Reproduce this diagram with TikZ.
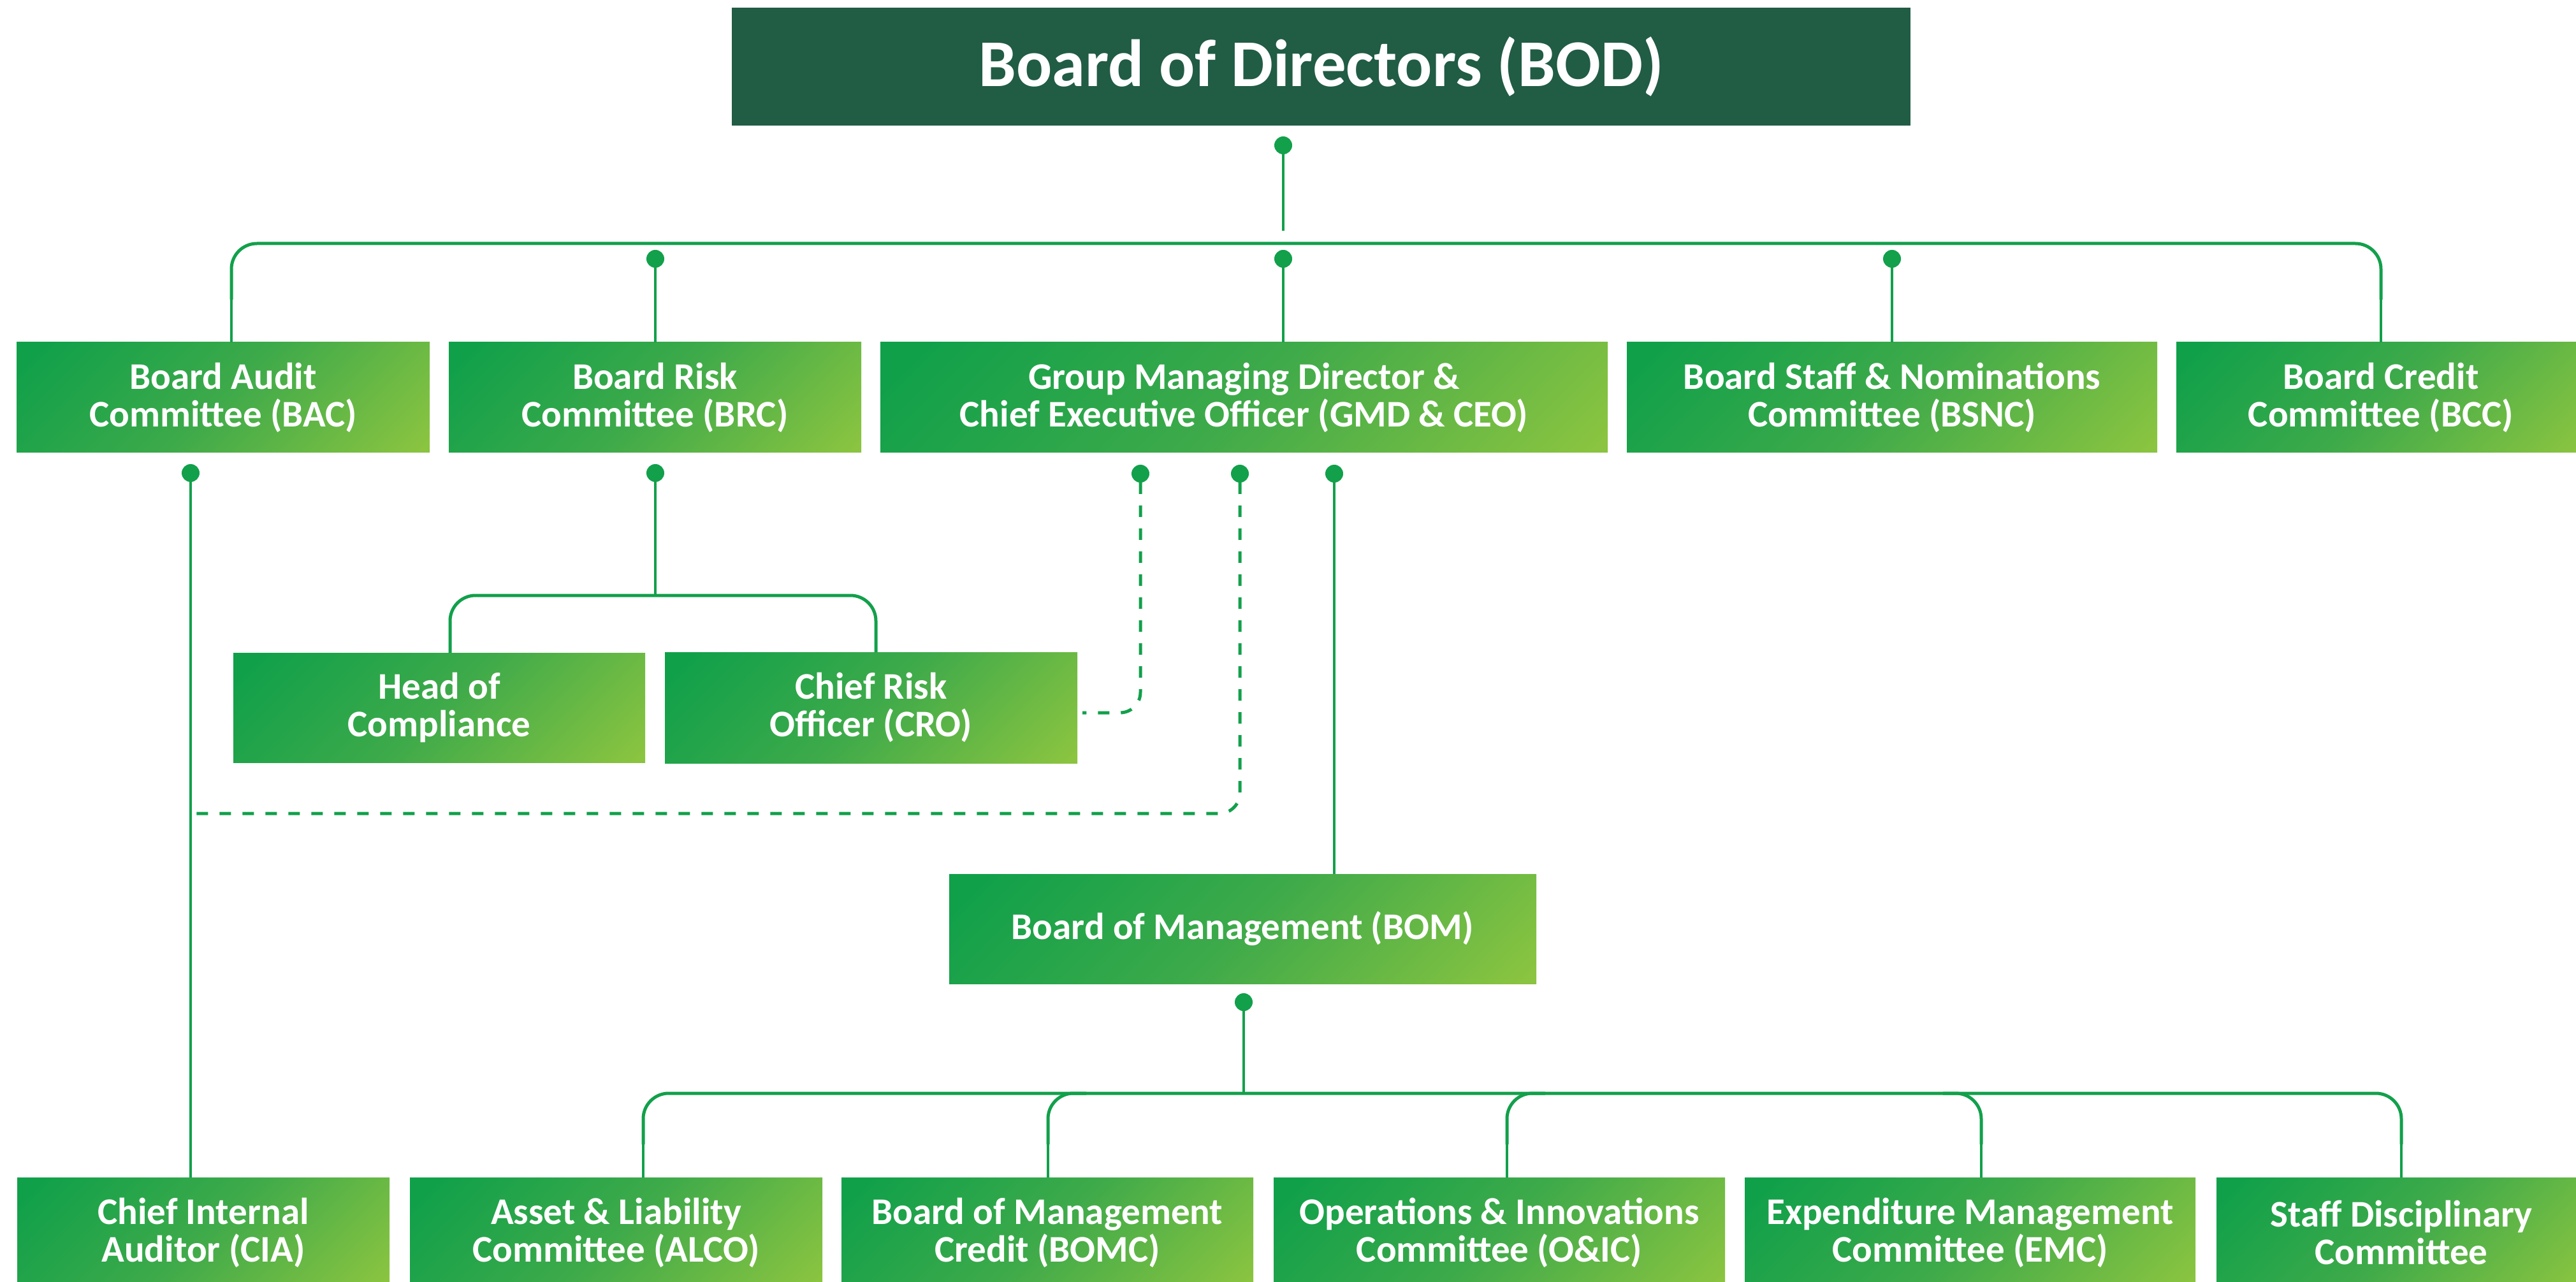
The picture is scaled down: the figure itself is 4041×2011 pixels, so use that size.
\documentclass[tikz,border=0pt]{standalone}
\usepackage{fontspec}
\setmainfont{Carlito}
\usetikzlibrary{calc}
\definecolor{gA}{RGB}{16,160,74}
\definecolor{gM}{RGB}{62,170,74}
\definecolor{gB}{RGB}{138,196,64}
\definecolor{bodc}{RGB}{33,92,69}
\definecolor{lnc}{RGB}{18,160,75}
\pgfdeclarehorizontalshading{boxgrad}{100bp}{color(0bp)=(gA); color(18bp)=(gA); color(50bp)=(gM); color(84bp)=(gB); color(100bp)=(gB)}
\tikzset{
  orgbox/.style={shade, shading=boxgrad, shading angle=-45, text=white, inner sep=0pt, outer sep=0pt,
    anchor=north west, align=center, font=\bfseries\fontsize{14.75}{14.75}\selectfont},
  conn/.style={draw=lnc, line width=0.8pt},
  busline/.style={draw=lnc, line width=1.25pt, rounded corners=10pt},
  dashconn/.style={draw=lnc, line width=1.25pt, dash pattern=on 4.5pt off 4.5pt, rounded corners=8pt},
  dotc/.style={circle, fill=lnc, inner sep=0pt, outer sep=0pt, minimum size=7pt}
}
\begin{document}
\begin{tikzpicture}[x=0.25pt,y=-0.25pt]
\useasboundingbox (0,0) rectangle (4041,2011);
\clip (0,0) rectangle (4041,2011);

% top
\node[fill=bodc, text=white, inner sep=0pt, outer sep=0pt, anchor=north west,
  minimum width=462.25pt, minimum height=46.25pt,
  font=\bfseries\fontsize{26.2}{28}\selectfont] (bod) at (1148,12) {Board of Directors (BOD)};

% first row
\node[orgbox, minimum width=162pt, minimum height=43.25pt] (bac) at (26,537) {Board Audit\\Committee (BAC)};
\node[orgbox, minimum width=161.75pt, minimum height=43.25pt] (brc) at (704,537) {Board Risk\\Committee (BRC)};
\node[orgbox, minimum width=285.25pt, minimum height=43.25pt] (gmd) at (1381,537) {Group Managing Director \&\\Chief Executive Officer (GMD \& CEO)};
\node[orgbox, minimum width=208pt, minimum height=43.25pt] (bsnc) at (2552,537) {Board Staff \& Nominations\\Committee (BSNC)};
\node[orgbox, minimum width=160.5pt, minimum height=43.25pt] (bcc) at (3414,537) {Board Credit\\Committee (BCC)};

% middle
\node[orgbox, minimum width=161.5pt, minimum height=43pt] (hoc) at (366,1024) {Head of\\Compliance};
\node[orgbox, minimum width=161.75pt, minimum height=43.5pt] (cro) at (1043,1023) {Chief Risk\\Officer (CRO)};
\node[orgbox, minimum width=230.25pt, minimum height=43pt] (bom) at (1489,1371) {Board of Management (BOM)};

% bottom row
\node[orgbox, minimum width=146pt, minimum height=43.25pt] (cia) at (27,1847) {Chief Internal\\Auditor (CIA)};
\node[orgbox, minimum width=161.75pt, minimum height=43.25pt] (alco) at (643,1847) {Asset \& Liability\\Committee (ALCO)};
\node[orgbox, minimum width=161.5pt, minimum height=43.25pt] (bomc) at (1320,1847) {Board of Management\\Credit (BOMC)};
\node[orgbox, minimum width=177pt, minimum height=43.25pt] (oic) at (1998,1847) {Operations \& Innovations\\Committee (O\&IC)};
\node[orgbox, minimum width=176.75pt, minimum height=43.25pt] (emc) at (2737,1847) {Expenditure Management\\Committee (EMC)};
\node[orgbox, minimum width=145pt, minimum height=43.25pt] (sdc) at (3477,1847) {Staff Disciplinary\\Committee};

% dots
\node[dotc] (d0) at (2013,228) {};
\node[dotc] (d1) at (1028,406) {};
\node[dotc] (d2) at (2013,406) {};
\node[dotc] (d3) at (2968,406) {};
\node[dotc] (d4) at (299,742) {};
\node[dotc] (d5) at (1028,742) {};
\node[dotc] (g1) at (1789,743) {};
\node[dotc] (g2) at (1945,743) {};
\node[dotc] (g3) at (2093,743) {};
\node[dotc] (d6) at (1951,1572) {};

% coordinates
\coordinate (d0e) at (2013,362);
\coordinate (tbL) at (363,382);
\coordinate (tbR) at (3735,382);
\coordinate (hbL) at (706,934);
\coordinate (hbR) at (1374,934);
\coordinate (crE) at (1698,1118);
\coordinate (ciE) at (304,1276);
\coordinate (bbL) at (1009,1715);
\coordinate (bbR) at (3767,1715);
\coordinate (bbB) at (1644,1715);
\coordinate (bbO) at (2364,1715);
\coordinate (bbE) at (3108,1715);

% top bus
\draw[conn] (d0) -- (d0e);
\draw[busline] (363,470) -- (tbL) -- (tbR) -- (3735,470);
\draw[conn] (tbL) ++(0,86) -- (tbL |- bac.north);
\draw[conn] (tbR) ++(0,86) -- (tbR |- bcc.north);
\draw[conn] (d1) -- (d1 |- brc.north);
\draw[conn] (d2) -- (d2 |- gmd.north);
\draw[conn] (d3) -- (d3 |- bsnc.north);

% BRC to head / CRO
\draw[conn] (d5) -- (d5 |- hbL);
\draw[busline] (hbL |- hoc.north) -- (hbL) -- (hbR) -- (hbR |- cro.north);

% BAC to CIA
\draw[conn] (d4) -- (d4 |- cia.north);

% dashed from GMD
\draw[dashconn] (g1) -- (g1 |- crE) -- (crE);
\draw[dashconn] (g2) -- (g2 |- ciE) -- (ciE);

% GMD to BOM
\draw[conn] (g3) -- (g3 |- bom.north);

% BOM to bottom bus
\draw[conn] (d6) -- (d6 |- bbL);
\draw[busline] (1009,1795) -- (bbL) -- (bbR) -- (3767,1795);
\draw[conn] (bbL) ++(0,78) -- (bbL |- alco.north);
\draw[conn] (bbR) ++(0,78) -- (bbR |- sdc.north);
\draw[busline] (1704,1715) -- (bbB) -- (1644,1795);
\draw[conn] (bbB) ++(0,78) -- (bbB |- bomc.north);
\draw[busline] (2424,1715) -- (bbO) -- (2364,1795);
\draw[conn] (bbO) ++(0,78) -- (bbO |- oic.north);
\draw[busline] (3048,1715) -- (bbE) -- (3108,1795);
\draw[conn] (bbE) ++(0,78) -- (bbE |- emc.north);
\end{tikzpicture}
\end{document}
